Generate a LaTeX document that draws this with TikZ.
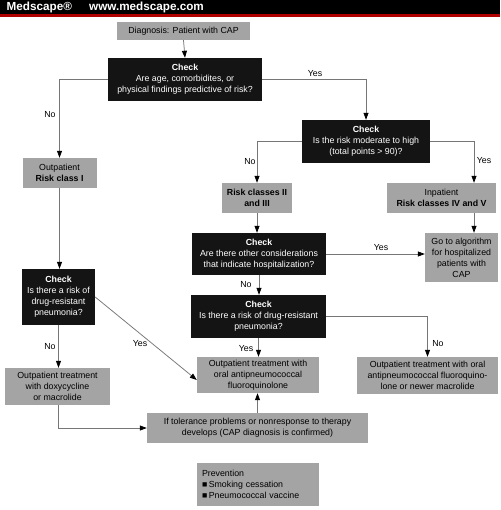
\documentclass[tikz,border=0pt]{standalone}
\usepackage{fontspec}
\setmainfont{Liberation Sans}
\usetikzlibrary{arrows.meta}
\definecolor{boxgray}{HTML}{A4A4A4}
\definecolor{boxblack}{HTML}{141414}
\definecolor{linegray}{HTML}{767676}
\definecolor{medred}{HTML}{B00000}
\begin{document}
\begin{tikzpicture}[x=1pt,y=-1pt,
 base/.style={inner sep=0pt, align=center, font=\fontsize{8.8}{11}\selectfont, anchor=center},
 graybox/.style={base, fill=boxgray, text=black},
 blackbox/.style={base, fill=boxblack, text=white},
 arr/.style={draw=linegray, line width=0.75pt, -{Triangle[length=7pt,width=5pt,color=black]}},
 lbl/.style={font=\fontsize{8.8}{10}\selectfont, inner sep=0pt, anchor=center},
 head/.style={anchor=west, text=white, inner sep=0pt, font=\bfseries\fontsize{11.7}{12}\selectfont}
]
\useasboundingbox[fill=white] (0,0) rectangle (500,510);
% header
\fill[black] (0,0) rectangle (500,14.5);
\fill[medred] (0,14.5) rectangle (500,16.8);
\node[head] (brand) at (6.5,7.5) {Medscape®};
\node[head] (url) at (89,7.5) {www.medscape.com};

% boxes
\node[graybox, minimum width=133pt, minimum height=18pt] (diag) at (183.5,31) {Diagnosis: Patient with CAP};
\node[blackbox, minimum width=154pt, minimum height=43pt] (chk1) at (185,79.5) {\textbf{Check}\\Are age, comorbidites, or\\physical findings predictive of risk?};
\node[blackbox, minimum width=128pt, minimum height=43pt] (chk2) at (366,141.5) {\textbf{Check}\\Is the risk moderate to high\\(total points > 90)?};
\node[graybox, minimum width=74pt, minimum height=30pt] (out1) at (59.5,173) {Outpatient\\\textbf{Risk class I}};
\node[graybox, minimum width=70pt, minimum height=30pt] (risk23) at (257,198) {\textbf{Risk classes II}\\\textbf{and III}};
\node[graybox, minimum width=109pt, minimum height=30pt] (inpat) at (441.5,198) {Inpatient\\\textbf{Risk classes IV and V}};
\node[graybox, minimum width=73pt, minimum height=49pt] (goto) at (461.5,257.5) {Go to algorithm\\for hospitalized\\patients with\\CAP};
\node[blackbox, minimum width=134pt, minimum height=42pt] (chk3) at (259,254) {\textbf{Check}\\Are there other considerations\\that indicate hospitalization?};
\node[blackbox, minimum width=73pt, minimum height=56pt] (chk4) at (58.5,297) {\textbf{Check}\\Is there a risk of\\drug-resistant\\pneumonia?};
\node[blackbox, minimum width=135pt, minimum height=43pt] (chk5) at (258.5,316.5) {\textbf{Check}\\Is there a risk of drug-resistant\\pneumonia?};
\node[graybox, minimum width=105pt, minimum height=37pt] (doxy) at (57.5,386.5) {Outpatient treatment\\with doxycycline\\or macrolide};
\node[graybox, minimum width=122pt, minimum height=36pt] (fluoro) at (258,375) {Outpatient treatment with\\oral antipneumococcal\\fluoroquinolone};
\node[graybox, minimum width=141pt, minimum height=37pt] (macro) at (427.5,375.5) {Outpatient treatment with oral\\antipneumococcal fluoroquino-\\lone or newer macrolide};
\node[graybox, minimum width=221pt, minimum height=30pt] (toler) at (257.5,428) {If tolerance problems or nonresponse to therapy\\develops (CAP diagnosis is confirmed)};
\node[graybox, minimum width=122pt, minimum height=43pt, align=left, text width=112pt, inner xsep=5pt] (prev) at (258,484.5) {Prevention\\■\,Smoking cessation\\■\,Pneumococcal vaccine};

% connectors
\draw[arr] (diag.south) -- (chk1.north);
\draw[arr] (chk1.west) -| (out1.north);
\draw[arr] (chk1.east) -| (chk2.north);
\draw[arr] (chk2.west) -| (risk23.north);
\draw[arr] (chk2.east) -| ([xshift=32.5pt]inpat.north);
\draw[arr] ([xshift=32.5pt]inpat.south) -- ([xshift=12.5pt]goto.north);
\draw[arr] (risk23.south) -- (risk23.south |- chk3.north);
\draw[arr] (chk3.east) -- (chk3.east -| goto.west);
\draw[arr] (chk3.south) -- (chk3.south |- chk5.north);
\draw[arr] (chk5.east) -| (macro.north);
\draw[arr] (chk5.south) -- (chk5.south |- fluoro.north);
\draw[arr] (out1.south) -- (out1.south |- chk4.north);
\draw[arr] (chk4.south) -- (chk4.south |- doxy.north);
\draw[arr] (chk4.east) -- ([yshift=-5pt]fluoro.west);
\draw[arr] (doxy.south -| chk4.south) |- (toler.west);
\draw[arr] (toler.north) -- (toler.north |- fluoro.south);

% labels
\node[lbl] (l1) at (50,115) {No};
\node[lbl] (l2) at (315,74) {Yes};
\node[lbl] (l3) at (250,162) {No};
\node[lbl] (l4) at (484,161) {Yes};
\node[lbl] (l5) at (381,248) {Yes};
\node[lbl] (l6) at (246,285) {No};
\node[lbl] (l7) at (246,349) {Yes};
\node[lbl] (l8) at (438,344) {No};
\node[lbl] (l9) at (50,347) {No};
\node[lbl] (l10) at (140,344) {Yes};
\end{tikzpicture}
\end{document}
